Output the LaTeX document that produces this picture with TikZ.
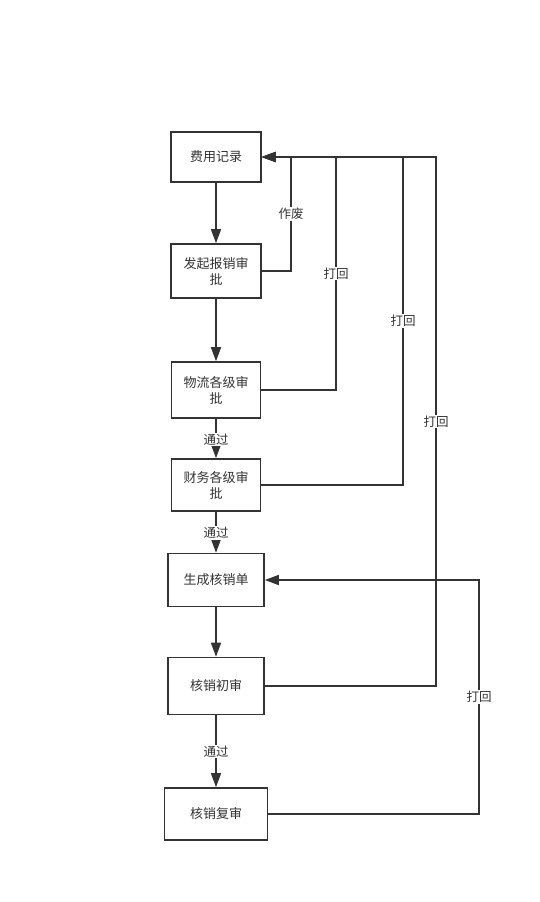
\documentclass[tikz,border=0pt]{standalone}
\usepackage{fontspec}
\setmainfont{Noto Sans CJK SC}
\usetikzlibrary{arrows.meta}
\definecolor{ink}{HTML}{333333}
\begin{document}
\begin{tikzpicture}[x=1pt,y=-1pt,
  box/.style={draw=ink,line width=1.6pt,fill=white,align=center,inner sep=0pt,font=\fontsize{13}{16}\selectfont,text=ink},
  flow/.style={draw=ink,line width=1.6pt,-{Triangle[length=14pt,width=10pt]}},
  back/.style={draw=ink,line width=1.4pt,-{Triangle[length=14pt,width=10pt]}},
  lbl/.style={fill=white,inner sep=1pt,font=\fontsize{12.5}{14}\selectfont,text=ink}]
\useasboundingbox (0,0) rectangle (540,902);
\node[box,minimum width=90pt,minimum height=50pt] (b1) at (216,157) {费用记录};
\node[box,minimum width=90pt,minimum height=54pt] (b2) at (216,271) {发起报销审\\批};
\node[box,minimum width=89pt,minimum height=56pt] (b3) at (216,390) {物流各级审\\批};
\node[box,minimum width=89pt,minimum height=52pt] (b4) at (216,485) {财务各级审\\批};
\node[box,minimum width=96pt,minimum height=53pt] (b5) at (216,580) {生成核销单};
\node[box,minimum width=96pt,minimum height=57pt] (b6) at (216,686) {核销初审};
\node[box,minimum width=103pt,minimum height=52pt] (b7) at (216,814) {核销复审};
% main flow
\draw[flow] (b1) -- (b2);
\draw[flow] (b2) -- (b3);
\draw[flow] (b3) -- node[lbl,pos=0.52] {通过} (b4);
\draw[flow] (b4) -- node[lbl,pos=0.52] {通过} (b5);
\draw[flow] (b5) -- (b6);
\draw[flow] (b6) -- node[lbl,pos=0.5] {通过} (b7);
% return paths
\coordinate (c1) at (291,157);
\coordinate (c2) at (336,157);
\coordinate (c3) at (403,157);
\coordinate (c4) at (436,157);
\coordinate (c5) at (479,580);
\draw[back] (b6.east) -| node[lbl,pos=0.75] {打回} (c4) -- (b1.east);
\draw[back] (b4.east) -| node[lbl,pos=0.75] {打回} (c3) -- (b1.east);
\draw[back] (b3.east) -| node[lbl,pos=0.75] {打回} (c2) -- (b1.east);
\draw[back] (b2.east) -| node[lbl,pos=0.75] {作废} (c1) -- (b1.east);
\draw[back] (b7.east) -| node[lbl,pos=0.75] {打回} (c5) -- (b5.east);
\end{tikzpicture}
\end{document}
